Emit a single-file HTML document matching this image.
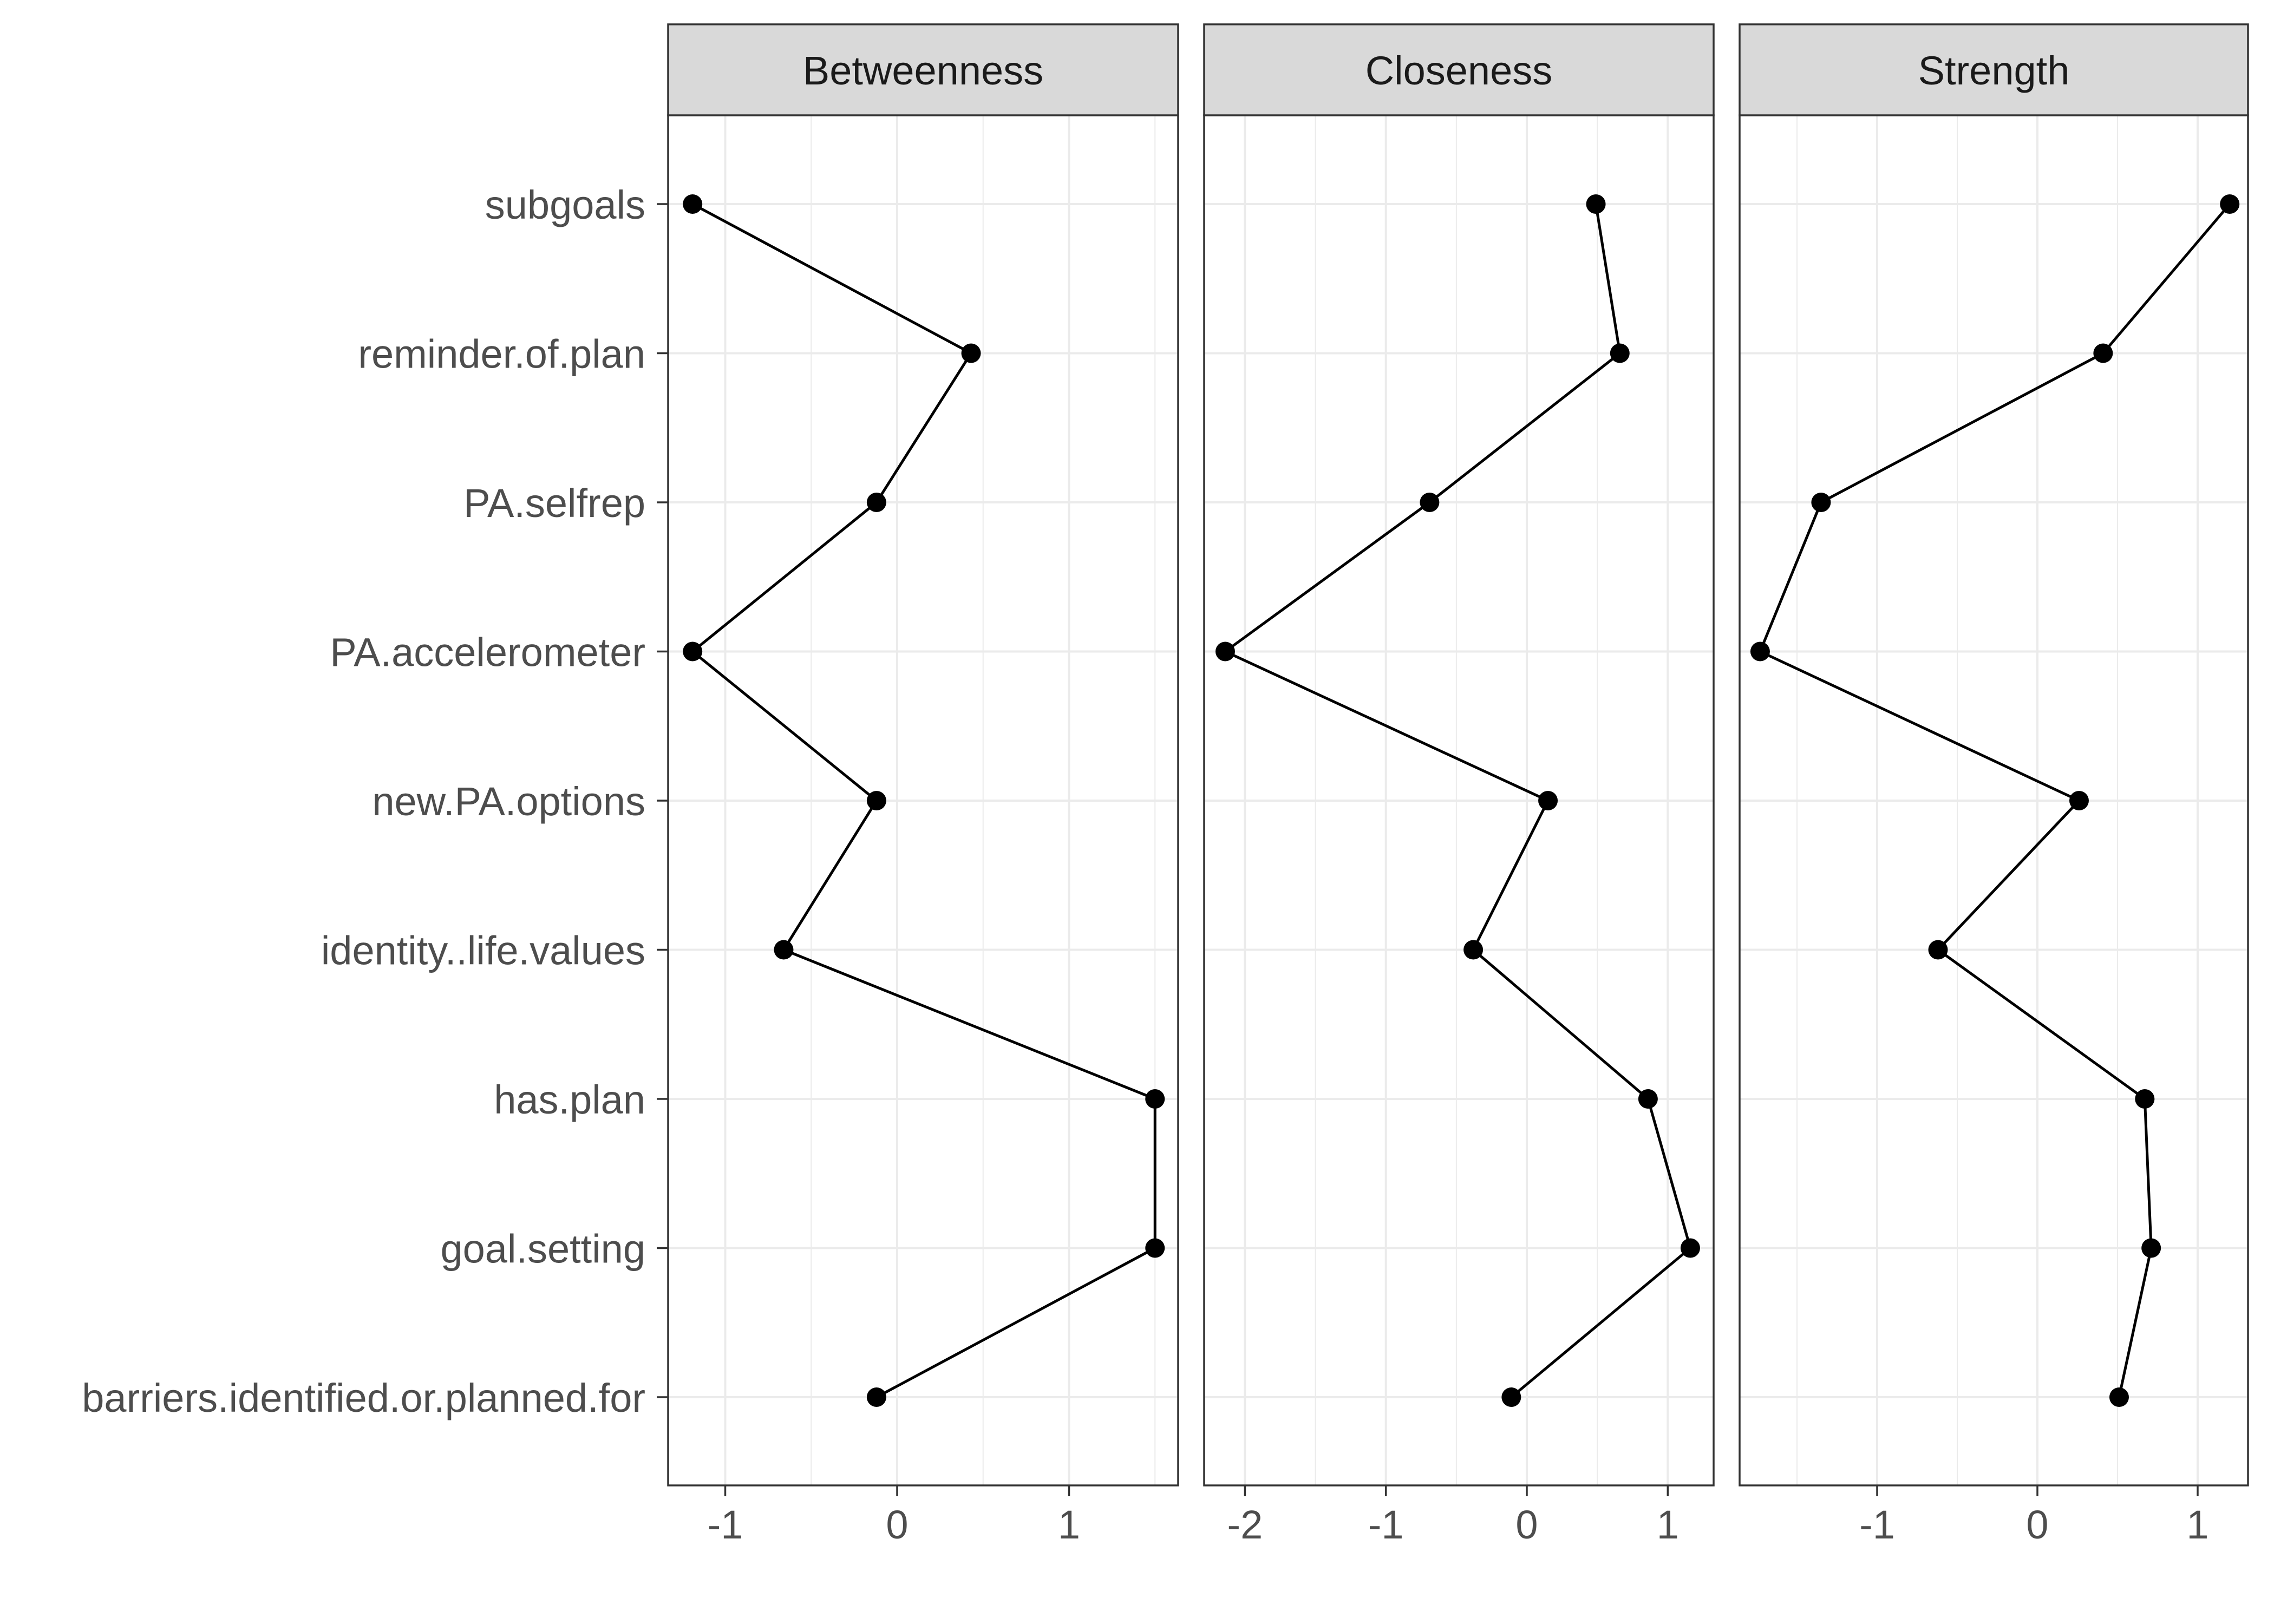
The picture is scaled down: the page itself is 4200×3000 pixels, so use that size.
<!DOCTYPE html>
<html><head><meta charset="utf-8"><style>
html,body{margin:0;padding:0;background:#fff;}
svg{display:block;font-family:"Liberation Sans",Arial,sans-serif;}
</style></head><body>
<svg id="chart" width="4200" height="3000" viewBox="0 0 4200 3000" xmlns="http://www.w3.org/2000/svg">
<rect x="0" y="0" width="4200" height="3000" fill="#fff"/>
</svg>
<script>
const categories = ["subgoals","reminder.of.plan","PA.selfrep","PA.accelerometer","new.PA.options","identity..life.values","has.plan","goal.setting","barriers.identified.or.planned.for"];
const panelTitles = ["Betweenness","Closeness","Strength"];
const betweenness = [-1.19,0.43,-0.12,-1.19,-0.12,-0.66,1.50,1.50,-0.12];
const closeness = [0.49,0.66,-0.69,-2.14,0.15,-0.38,0.86,1.16,-0.11];
const strength = [1.20,0.41,-1.35,-1.73,0.26,-0.62,0.67,0.71,0.51];
const ticks1 = [-1,0,1];
const ticks2 = [-2,-1,0,1];
const ticks3 = [-1,0,1];

const NS="http://www.w3.org/2000/svg";
const svg=document.getElementById('chart');
function mk(tag,attrs,parent){const e=document.createElementNS(NS,tag);for(const k in attrs)e.setAttribute(k,attrs[k]);(parent||svg).appendChild(e);return e;}

const series=[betweenness,closeness,strength];
const tickSets=[ticks1,ticks2,ticks3];
const panels=[[1234,2176,1657,317.5],[2224,3165,2820,260.3],[3213,4152,3763,296]];
const yTop=213, yBot=2744, row0=377, rowStep=275.5, stripTop=45;
function yScale(i){return row0+i*rowStep;}

panels.forEach((p,pi)=>{
  const [L,R,x0,u]=p;
  const xs=v=>x0+v*u;
  const g=mk('g',{});
  
  
  const vmin=(L-x0)/u, vmax=(R-x0)/u;
  for(let v=Math.ceil(vmin*2)/2; v<=vmax; v+=0.5){
    if(Math.abs(v-Math.round(v))<1e-6) continue;
    const l=mk('line',{x1:xs(v),x2:xs(v),y1:yTop,y2:yBot,stroke:'#ebebeb','stroke-width':2},g);
    
    
  }
  tickSets[pi].forEach(t=>{
    const l=mk('line',{x1:xs(t),x2:xs(t),y1:yTop,y2:yBot,stroke:'#ebebeb','stroke-width':4},g);
    
    
  });
  categories.forEach((c,i)=>{
    const l=mk('line',{x1:L,x2:R,y1:yScale(i),y2:yScale(i),stroke:'#ebebeb','stroke-width':4},g);
    
    
  });
  const pts=series[pi].map((v,i)=>xs(v)+','+yScale(i)).join(' ');
  const pl=mk('polyline',{points:pts,fill:'none',stroke:'#000','stroke-width':5,'stroke-linejoin':'round'},g);
  
  
  series[pi].forEach((v,i)=>{
    const c=mk('circle',{cx:xs(v),cy:yScale(i),r:18,fill:'#000'},g);
    
    
  });
  const b=mk('rect',{x:L,y:yTop,width:R-L,height:yBot-yTop,fill:'none',stroke:'#333','stroke-width':3.5},g);
  
  
  const s=mk('rect',{x:L,y:stripTop,width:R-L,height:yTop-stripTop,fill:'#d9d9d9',stroke:'#333','stroke-width':3.5},g);
  
  
  const st=mk('text',{x:(L+R)/2,y:(stripTop+yTop)/2+27,'text-anchor':'middle','font-size':74,fill:'#1a1a1a'},g);
  st.textContent=panelTitles[pi];
  
  
  tickSets[pi].forEach(t=>{
    const tk=mk('line',{x1:xs(t),x2:xs(t),y1:yBot,y2:yBot+20,stroke:'#333','stroke-width':3.5},g);
    
    
    const tl=mk('text',{x:xs(t),y:yBot+98,'text-anchor':'middle','font-size':74,fill:'#4d4d4d'},g);
    tl.textContent=String(t);
    
    
  });
});

categories.forEach((c,i)=>{
  const tk=mk('line',{x1:1213,x2:1234,y1:yScale(i),y2:yScale(i),stroke:'#333','stroke-width':3.5});
  
  
  const t=mk('text',{x:1192,y:yScale(i)+27,'text-anchor':'end','font-size':74,fill:'#4d4d4d'});
  t.textContent=c;
  
  
});
</script>
</body></html>
